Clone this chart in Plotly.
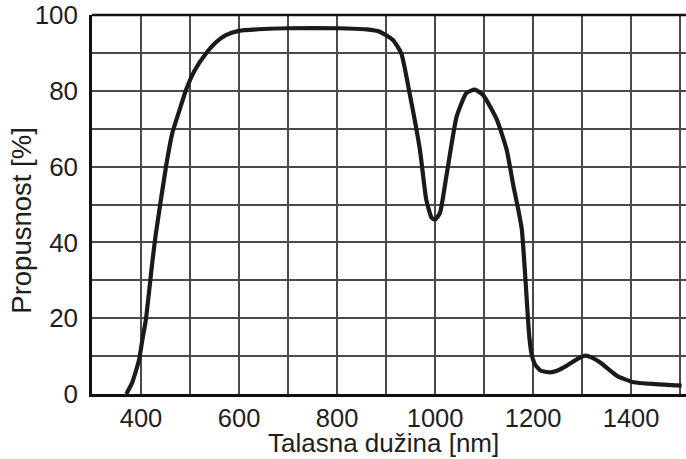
import plotly.graph_objects as go

wavelength = [370, 382, 396, 403, 410, 423, 430, 451, 464, 480, 492, 510, 533, 553, 573, 600,
              650, 700, 800, 860, 887, 914, 931, 948, 969, 982, 993, 1000, 1010, 1023, 1044,
              1064, 1081, 1098, 1126, 1146, 1160, 1170, 1177, 1183, 1188, 1192, 1197, 1204,
              1215, 1235, 1250, 1269, 1290, 1306, 1320, 1337, 1371, 1405, 1450, 1503]
transmission = [0, 3, 9, 14.5, 19.7, 34.7, 42, 60, 68.9, 75.5, 80.3, 85.5, 89.9, 92.8, 94.7, 95.8,
                96.3, 96.5, 96.5, 96.2, 95.6, 93.4, 89.9, 79.4, 64.5, 51.3, 46.5, 46, 47.8, 57.4, 73.2,
                79.4, 80.3, 78.9, 72.4, 64.5, 54.8, 48.5, 43.4, 33, 23, 15.5, 10.5, 7.8,
                6.2, 5.7, 6.2, 7.5, 9.2, 10.1, 9.6, 8.3, 4.8, 3.1, 2.6, 2.2]

x_ticks = [400, 600, 800, 1000, 1200, 1400]
y_ticks = [0, 20, 40, 60, 80, 100]
x_title = "Talasna dužina [nm]"
y_title = "Propusnost [%]"

fig = go.Figure()
fig.add_trace(go.Scatter(x=wavelength, y=transmission, mode="lines",
                         line=dict(color="#1a1a1a", width=4.2, shape="spline", smoothing=0.5),
                         hoverinfo="skip", showlegend=False))

font_fam = "Liberation Sans, Arial, sans-serif"
grid_c = "#4a4a4a"

fig.update_layout(
    width=686, height=459,
    margin=dict(l=92, r=0, t=15, b=65),
    paper_bgcolor="white", plot_bgcolor="white",
    font=dict(family=font_fam, size=26, color="#1e1e1e"),
    xaxis=dict(range=[300, 1512], tickvals=x_ticks, ticks="", ticklabelstandoff=0,
               tickfont=dict(size=25.5),
               showgrid=True, gridcolor=grid_c, gridwidth=1.5,
               minor=dict(dtick=100, tick0=0, showgrid=True, gridcolor=grid_c, gridwidth=1.5),
               showline=True, linecolor="#111", linewidth=2.5, zeroline=False),
    yaxis=dict(range=[0, 100], tickvals=y_ticks, ticks="", ticklabelstandoff=6,
               showgrid=True, gridcolor=grid_c, gridwidth=1.5,
               minor=dict(dtick=10, tick0=0, showgrid=True, gridcolor=grid_c, gridwidth=1.5),
               showline=True, linecolor="#111", linewidth=2.5, zeroline=False),
)
fig.add_shape(type="line", xref="paper", yref="paper", x0=0, x1=1, y0=1, y1=1,
              line=dict(color="#111", width=2.5))
fig.add_annotation(text=x_title, xref="paper", yref="paper", x=0.49, y=-0.128,
                   xanchor="center", yanchor="middle", showarrow=False,
                   font=dict(size=26))
fig.add_annotation(text=y_title, xref="paper", yref="paper", x=-0.118, y=0.457,
                   xanchor="center", yanchor="middle", textangle=-90, showarrow=False,
                   font=dict(size=27.5))

fig.write_html("out.html")
